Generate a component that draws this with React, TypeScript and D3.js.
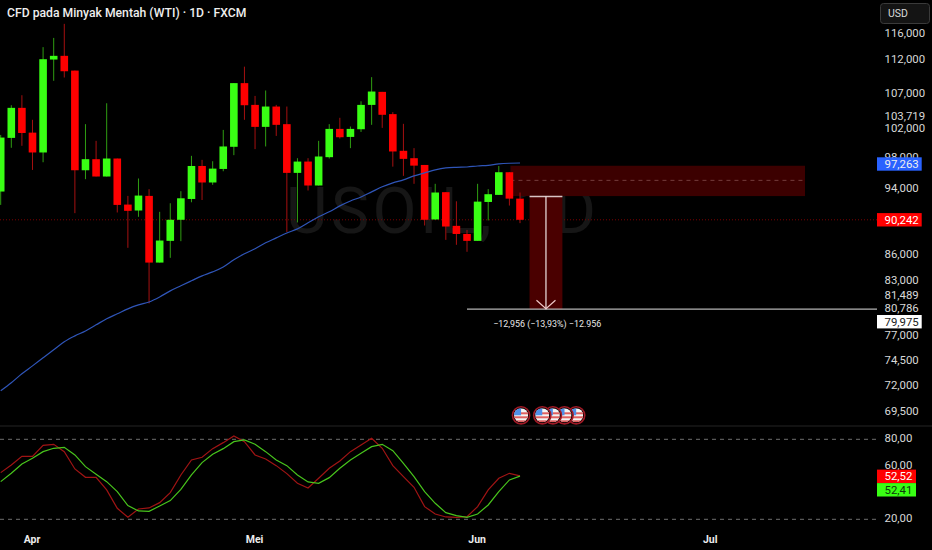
import { useEffect, useRef } from "react";
import * as d3 from "d3";

const W = 932;
const H = 550;

const opens = [93572, 100629, 104810, 101349, 98660, 111902, 112465, 110240, 96311, 97765, 95498, 97855, 91934, 91198, 93021, 84985, 87523, 90058, 92635, 96871, 94728, 96482, 99422, 108382, 105231, 102144, 104997, 102519, 95969, 97452, 94342, 98034, 101863, 100763, 101817, 105231, 107106, 103922, 98883, 97899, 97005, 90099, 93492, 89322, 88344, 87523, 92261, 93149, 96054, 92678];
const highs = [101031, 105184, 106618, 103127, 113797, 115230, 117448, 110240, 102519, 100227, 105465, 97855, 93021, 95241, 93877, 91035, 92098, 93615, 98212, 97676, 97497, 101723, 108382, 110827, 106520, 107302, 105231, 104997, 97899, 97899, 100227, 102519, 103407, 102191, 105746, 109264, 107106, 104202, 102565, 99243, 97005, 94557, 93492, 92343, 88831, 94557, 93877, 96871, 96054, 93449];
const lows = [91893, 99288, 99556, 96354, 97363, 108724, 109213, 90871, 95156, 95498, 95498, 90953, 86702, 90421, 80409, 84985, 85533, 87484, 92221, 92507, 94428, 96183, 98302, 103127, 99109, 99467, 100897, 88586, 89731, 93705, 94342, 97855, 100540, 99243, 101442, 102425, 102003, 96782, 95584, 94557, 89362, 90058, 87640, 87054, 86236, 87523, 89976, 93149, 91812, 89649];
const closes = [100674, 104810, 101302, 98660, 111953, 112465, 110142, 96311, 97765, 95498, 97855, 91893, 91157, 93063, 84985, 87562, 90058, 92721, 96871, 94728, 96525, 99467, 108382, 105184, 102144, 104997, 102425, 95969, 97452, 94342, 98123, 101863, 100719, 101863, 105231, 107155, 103829, 98794, 97810, 96916, 90058, 93449, 89240, 88344, 87523, 92302, 93235, 96054, 92678, 90058];
const ma = [71434, 72217, 73097, 73882, 74698, 75517, 76333, 76945, 77467, 78108, 78750, 79285, 79820, 80247, 80568, 81118, 81789, 82353, 82912, 83472, 83920, 84477, 85298, 86002, 86588, 87289, 87875, 88463, 88954, 89690, 90421, 91035, 91771, 92384, 92892, 93530, 94177, 94685, 95070, 95584, 95969, 96354, 96611, 96696, 96739, 96871, 96961, 97140, 97229, 97263];
const stochK = [55, 60.75, 67.25, 67.25, 75.5, 76.25, 70.75, 57.75, 51.5, 51.5, 42, 28.25, 21.5, 27.75, 28.5, 32.5, 40, 53.25, 64.5, 66.5, 73, 77.5, 82.5, 78.25, 68.25, 65.25, 60.25, 54.25, 47, 43.5, 50.75, 58.25, 63.75, 70.75, 75.75, 80.75, 73.25, 60.25, 52, 44, 29.5, 24, 21.75, 21.5, 22, 29.5, 42, 50.75, 54.5, 52.52];
const stochD = [48.25, 54.5, 61.5, 65.75, 70.75, 73.25, 74, 68.25, 59.5, 53.75, 48.25, 40.75, 30.25, 26.25, 26, 30, 34, 42.5, 53.25, 62.5, 68.75, 73, 78.25, 79.5, 76.25, 70.75, 64.5, 60.25, 53.25, 48, 47, 51.25, 58.25, 64.5, 69.5, 74.5, 76.25, 71.5, 62, 52, 40.75, 32, 25, 22.75, 21.5, 24, 30.75, 40.75, 49.5, 52.41];

const dateTicks = [
  { i: 3, label: "Apr" },
  { i: 24, label: "Mei" },
  { i: 45, label: "Jun" },
  { i: 67, label: "Jul" },
];
const priceTicks = [116000, 112000, 107000, 103719, 102000, 98000, 94000, 86000, 83000, 81489, 80786, 77000, 74500, 72000, 69500];
const stochTicks = [80, 60, 20];
const flagIdx = [49.1, 51.1, 52.1, 53.2, 54.3];

const zoneTop = 96900;
const zoneMid = 95000;
const zoneBottom = 93000;
const measureFrom = 92931;
const measureTo = 79780;
const lastClose = closes[closes.length - 1];

const fontStack = "Roboto, 'Open Sans', sans-serif";
const fmt = (v: number) => d3.format(",")(v);

export default function App() {
  const ref = useRef<SVGSVGElement>(null);

  useEffect(() => {
    if (!ref.current) return;
    const svg = d3.select(ref.current);
    svg.selectAll("*").remove();

    const x = d3.scaleLinear().domain([0, 49]).range([0.7, 520]);
    const y = d3.scaleLog().domain([69500, 116000]).range([411, 33]);
    const yS = d3.scaleLinear().domain([20, 80]).range([519.3, 439.3]);
    const right = 877;

    svg.append("rect").attr("width", W).attr("height", H).attr("fill", "#000");

    // watermark
    svg
      .append("text")
      .attr("x", 286)
      .attr("y", 233)
      .attr("font-family", fontStack)
      .attr("font-size", 64)
      .attr("fill", "#161616")
      .attr("textLength", 310)
      .text("USOIL, 1D");

    // last price line
    svg
      .append("line")
      .attr("x1", 0)
      .attr("x2", right)
      .attr("y1", y(lastClose))
      .attr("y2", y(lastClose))
      .attr("stroke", "#7a0000")
      .attr("stroke-width", 1)
      .attr("stroke-dasharray", "1 2");

    // sell zone
    svg
      .append("rect")
      .attr("x", x(48.1))
      .attr("y", y(zoneTop))
      .attr("width", 805 - x(48.1))
      .attr("height", y(zoneBottom) - y(zoneTop))
      .attr("fill", "#3c0000");
    svg
      .append("line")
      .attr("x1", x(48.1))
      .attr("x2", 805)
      .attr("y1", y(zoneMid))
      .attr("y2", y(zoneMid))
      .attr("stroke", "#743c3c")
      .attr("stroke-dasharray", "4 4");

    // measure tool
    const mx0 = x(49.9);
    const mx1 = x(53);
    const mxc = (mx0 + mx1) / 2;
    const my0 = y(measureFrom);
    const my1 = y(measureTo);
    svg
      .append("rect")
      .attr("x", mx0)
      .attr("y", my0)
      .attr("width", mx1 - mx0)
      .attr("height", my1 - my0)
      .attr("fill", "#4a0000");
    svg
      .append("line")
      .attr("x1", mx0)
      .attr("x2", mx1)
      .attr("y1", my0)
      .attr("y2", my0)
      .attr("stroke", "#d8c4c4")
      .attr("stroke-width", 1.5);
    svg
      .append("line")
      .attr("x1", x(44))
      .attr("x2", right)
      .attr("y1", my1)
      .attr("y2", my1)
      .attr("stroke", "#b4b4b4")
      .attr("stroke-width", 1.3);
    svg
      .append("line")
      .attr("x1", mxc)
      .attr("x2", mxc)
      .attr("y1", my0)
      .attr("y2", my1)
      .attr("stroke", "#f0e4e4")
      .attr("stroke-width", 1.2);
    svg
      .append("path")
      .attr("d", d3.line()([[mxc - 9.5, my1 - 9], [mxc, my1 - 0.5], [mxc + 9.5, my1 - 9]]))
      .attr("fill", "none")
      .attr("stroke", "#f0c8c8")
      .attr("stroke-width", 1.2);
    svg
      .append("text")
      .attr("x", mxc + 1.3)
      .attr("y", my1 + 18)
      .attr("text-anchor", "middle")
      .attr("font-family", fontStack)
      .attr("font-size", 8.9)
      .attr("fill", "#e8e8e8")
      .text("−12,956 (−13,93%) −12.956");

    // candles
    const bw = 7.6;
    closes.forEach((c, i) => {
      const o = opens[i];
      const up = c >= o;
      const g = svg.append("g");
      g.append("line")
        .attr("x1", x(i))
        .attr("x2", x(i))
        .attr("y1", y(highs[i]))
        .attr("y2", y(lows[i]))
        .attr("stroke", up ? "#2f9e12" : "#a51010")
        .attr("stroke-width", 1);
      g.append("rect")
        .attr("x", x(i) - bw / 2)
        .attr("y", y(Math.max(o, c)))
        .attr("width", bw)
        .attr("height", Math.abs(y(o) - y(c)))
        .attr("fill", up ? "#39ff14" : "#ff0000");
    });

    // moving average
    const maLine = d3
      .line<number>()
      .x((_, i) => x(i))
      .y((d) => y(d))
      .curve(d3.curveMonotoneX);
    svg
      .append("path")
      .datum(ma)
      .attr("d", maLine)
      .attr("fill", "none")
      .attr("stroke", "#2f55b8")
      .attr("stroke-width", 1.2);

    // pane divider
    svg
      .append("line")
      .attr("x1", 0)
      .attr("x2", W)
      .attr("y1", 426)
      .attr("y2", 426)
      .attr("stroke", "#242424")
      .attr("stroke-width", 1.2);

    // flags
    const defs = svg.append("defs");
    flagIdx
      .slice()
      .reverse()
      .forEach((fi, n) => {
        const cx = x(fi);
        const cy = 415.3;
        const id = `flag${n}`;
        defs.append("clipPath").attr("id", id).append("circle").attr("cx", cx).attr("cy", cy).attr("r", 7);
        const g = svg.append("g");
        g.append("circle").attr("cx", cx).attr("cy", cy).attr("r", 8.6).attr("fill", "#000").attr("stroke", "#a01a26").attr("stroke-width", 1.6);
        const f = g.append("g").attr("clip-path", `url(#${id})`);
        f.append("rect").attr("x", cx - 7).attr("y", cy - 7).attr("width", 14).attr("height", 14).attr("fill", "#f4f4f4");
        [-3, 1, 5].forEach((d) => {
          f.append("rect").attr("x", cx - 7).attr("y", cy + d).attr("width", 14).attr("height", 2).attr("fill", "#e06060");
        });
        f.append("rect").attr("x", cx - 7).attr("y", cy - 7).attr("width", 7).attr("height", 7).attr("fill", "#4f8fe8");
      });

    // stochastic
    stochTicks
      .filter((t) => t !== 60)
      .forEach((t) => {
        svg
          .append("line")
          .attr("x1", 0)
          .attr("x2", right)
          .attr("y1", yS(t))
          .attr("y2", yS(t))
          .attr("stroke", "#6e6e6e")
          .attr("stroke-dasharray", "4 4");
      });
    const sLine = d3
      .line<number>()
      .x((_, i) => x(i))
      .y((d) => yS(d));
    svg.append("path").datum(stochK).attr("d", sLine).attr("fill", "none").attr("stroke", "#a01414").attr("stroke-width", 1.2);
    svg.append("path").datum(stochD).attr("d", sLine).attr("fill", "none").attr("stroke", "#48c41c").attr("stroke-width", 1.2);

    // title
    svg
      .append("text")
      .attr("x", 7)
      .attr("y", 17)
      .attr("font-family", fontStack)
      .attr("font-size", 12.2)
      .attr("font-weight", 500)
      .attr("fill", "#eeeeee")
      .text("CFD pada Minyak Mentah (WTI) · 1D · FXCM");

    // date labels
    dateTicks.forEach((d) => {
      svg
        .append("text")
        .attr("x", x(d.i) - 0.5)
        .attr("y", 543)
        .attr("text-anchor", "middle")
        .attr("font-family", fontStack)
        .attr("font-size", 10.5)
        .attr("font-weight", 700)
        .attr("fill", "#ececec")
        .text(d.label);
    });

    // price axis labels, the ones close to the line labels get pushed down
    const pushed: Record<number, number> = { 81489: 1.7, 80786: 8 };
    const axisText = (label: string, ty: number, lx = 884.5, fill = "#d8d8d8") =>
      svg
        .append("text")
        .attr("x", lx)
        .attr("y", ty)
        .attr("dy", "0.35em")
        .attr("font-family", fontStack)
        .attr("font-size", 11.4)
        .attr("fill", fill)
        .text(label);
    priceTicks.forEach((t) => axisText(fmt(t), y(t) + (pushed[t] ?? 0)));
    stochTicks.forEach((t) => axisText(d3.format(".2f")(t).replace(".", ","), yS(t) - 1));

    const badge = (label: string, cy: number, w: number, bg: string, fg: string) => {
      svg.append("rect").attr("x", 877).attr("y", cy - 6.7).attr("width", w).attr("height", 13.4).attr("fill", bg);
      axisText(label, cy, 884.5, fg);
    };
    badge("97,263", y(ma[ma.length - 1]) + 1, 44.7, "#2962ff", "#f0f0f0");
    badge("90,242", y(lastClose), 44.7, "#ff0000", "#ffffff");
    badge("79,975", y(measureTo) + 12.5, 44.7, "#ffffff", "#222222");
    badge("52,52", 476.3, 39, "#ff0000", "#ffffff");
    badge("52,41", 489.8, 39, "#39ff14", "#0c3a0c");

    // currency button
    svg
      .append("rect")
      .attr("x", 880.5)
      .attr("y", 3.5)
      .attr("width", 49)
      .attr("height", 20)
      .attr("rx", 3)
      .attr("fill", "#141414")
      .attr("stroke", "#3a3a3a");
    svg
      .append("text")
      .attr("x", 888)
      .attr("y", 13.5)
      .attr("dy", "0.35em")
      .attr("font-family", fontStack)
      .attr("font-size", 10.5)
      .attr("fill", "#d8d8d8")
      .text("USD");
  }, []);

  return <svg ref={ref} width={W} height={H} style={{ position: "fixed", left: 0, top: 0, display: "block" }} />;
}
